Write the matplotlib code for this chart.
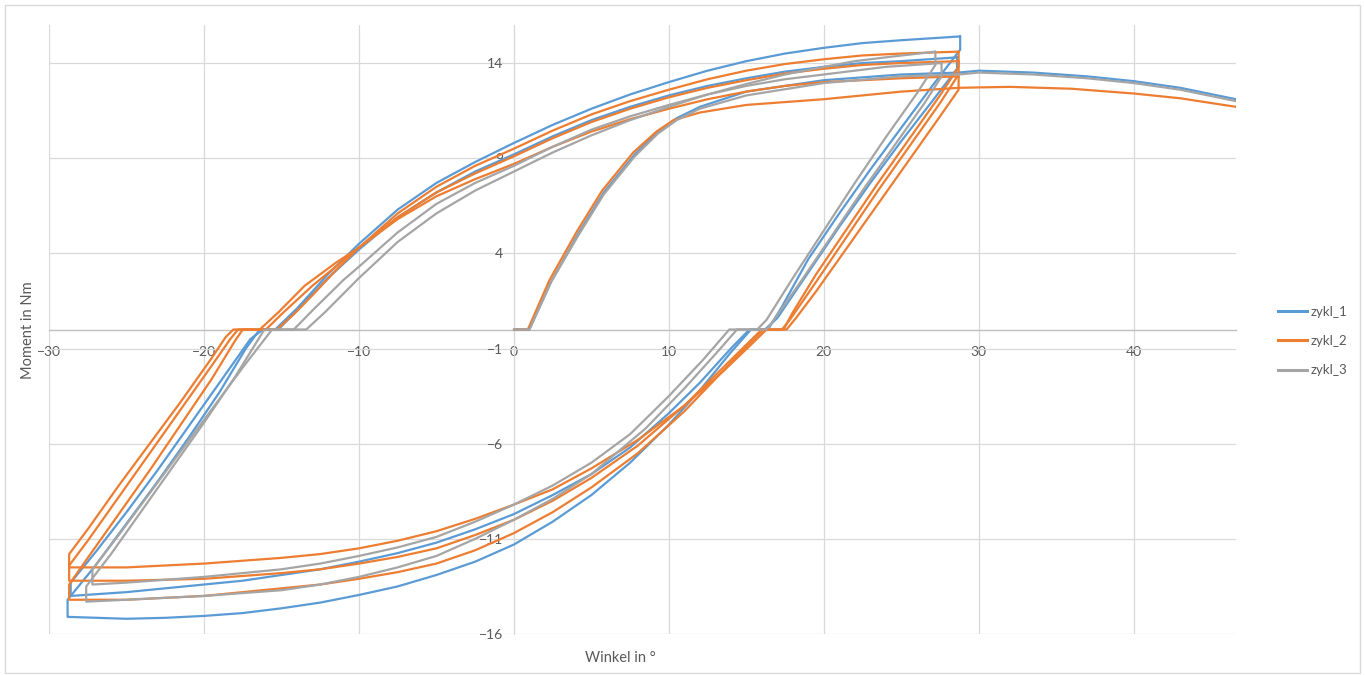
import matplotlib
matplotlib.use('Agg')
import matplotlib.pyplot as plt
from matplotlib.lines import Line2D
from matplotlib.patches import Rectangle

plt.rcParams['font.family'] = ['Lato', 'DejaVu Sans']

# ---- data (Winkel in °, Moment in Nm) ----
x_ticks = [-30, -20, -10, 0, 10, 20, 30, 40]
y_ticks = [-16, -11, -6, -1, 4, 9, 14]
series_names = ['zykl_1', 'zykl_2', 'zykl_3']
series_colors = ['#5B9BD5', '#ED7D31', '#A5A5A5']

# zykl_1
zykl_1_virgin = [(0, 0), (1.0, 0), (2.4, 2.5), (4.2, 5.1), (5.8, 7.2), (7.8, 9.2), (9.3, 10.4),
                 (10.5, 11.1), (12, 11.7), (15, 12.5), (20, 13.1), (25, 13.4), (28.7, 13.5),
                 (30, 13.6), (33.5, 13.5), (37, 13.3), (40, 13.05), (43, 12.7), (46.6, 12.1)]
zykl_1_loop_a = [(28.8, 15.4), (28.8, 14.7), (27, 12.8), (25, 10.6), (23, 8.4), (21, 6.1), (19, 3.7),
                 (17.3, 1.2), (16.4, 0), (15.3, 0), (14, -1.2), (12, -3.2), (10, -5.0), (7.5, -7.0),
                 (5, -8.7), (2.5, -10.1), (0, -11.3), (-2.5, -12.2), (-5, -12.9), (-7.5, -13.5),
                 (-10, -13.95), (-12.5, -14.35), (-15, -14.65), (-17.5, -14.9), (-20, -15.05),
                 (-22.5, -15.15), (-25, -15.2), (-28.8, -15.1),
                 (-28.8, -14.2), (-27, -12.4), (-25, -10.2), (-23, -8.0), (-21, -5.7), (-19, -3.3),
                 (-17.3, -1.0), (-16.4, 0), (-15.4, 0), (-14, 1.1), (-12, 2.9), (-10, 4.5),
                 (-7.5, 6.3), (-5, 7.7), (-2.5, 8.8), (0, 9.8), (2.5, 10.75), (5, 11.6),
                 (7.5, 12.35), (10, 13.0), (12.5, 13.6), (15, 14.1), (17.5, 14.5), (20, 14.8),
                 (22.5, 15.05), (25, 15.2), (28.8, 15.4)]
zykl_1_loop_b = [(28.6, 14.3), (28.6, 13.7), (27, 12.0), (25, 9.9), (23, 7.7), (21, 5.4), (19, 3.0),
                 (17.0, 0.6), (16.2, 0), (15.2, 0), (14, -1.0), (12, -2.8), (10, -4.4), (7.5, -6.2),
                 (5, -7.6), (2.5, -8.7), (0, -9.7), (-2.5, -10.5), (-5, -11.2), (-7.5, -11.75),
                 (-10, -12.2), (-12.5, -12.6), (-15, -12.9), (-17.5, -13.2), (-20, -13.4),
                 (-22.5, -13.6), (-25, -13.8), (-28.6, -14.0),
                 (-28.6, -13.3), (-27, -11.7), (-25, -9.6), (-23, -7.4), (-21, -5.1), (-19, -2.8),
                 (-17, -0.5), (-16.2, 0), (-15.2, 0), (-14, 1.0), (-12, 2.7), (-10, 4.2),
                 (-7.5, 5.9), (-5, 7.2), (-2.5, 8.3), (0, 9.2), (2.5, 10.15), (5, 11.0),
                 (7.5, 11.7), (10, 12.3), (12.5, 12.8), (15, 13.2), (17.5, 13.55), (20, 13.8),
                 (22.5, 14.0), (25, 14.1), (28.6, 14.3)]

# zykl_2
zykl_2_virgin = [(0, 0), (0.9, 0), (2.3, 2.6), (4.1, 5.2), (5.7, 7.3), (7.7, 9.3), (9.2, 10.4),
                 (10.3, 11.0), (12, 11.4), (15, 11.8), (20, 12.1), (25, 12.5), (28.7, 12.7),
                 (32, 12.75), (36, 12.65), (40, 12.4), (43, 12.15), (46.6, 11.7)]
zykl_2_loop_a = [(28.7, 14.6), (28.7, 13.8), (27.5, 12.3), (25.5, 10.0), (23.5, 7.7), (21.5, 5.3),
                 (19.5, 2.9), (18, 0.9), (17.4, 0), (16.1, 0), (15, -0.9), (13, -2.6), (11, -4.3),
                 (8, -6.5), (5, -8.3), (2.5, -9.6), (0, -10.7), (-2.5, -11.6), (-5, -12.3),
                 (-7.5, -12.75), (-10, -13.1), (-12.5, -13.4), (-15, -13.6), (-17.5, -13.8),
                 (-20, -14.0), (-22.5, -14.1), (-25, -14.2), (-28.7, -14.2),
                 (-28.7, -13.4), (-27.5, -12.0), (-25.5, -9.7), (-23.5, -7.4), (-21.5, -5.0),
                 (-19.5, -2.6), (-18, -0.6), (-17.5, 0), (-15.3, 0), (-14.2, 0.8), (-13, 1.8),
                 (-11.5, 3.1), (-10, 4.3), (-7.5, 6.1), (-5, 7.5), (-2.5, 8.6), (0, 9.5),
                 (2.5, 10.45), (5, 11.3), (7.5, 12.0), (10, 12.6), (12.5, 13.15), (15, 13.6),
                 (17.5, 13.95), (20, 14.2), (22.5, 14.4), (25, 14.5), (28.7, 14.6)]
zykl_2_loop_b = [(28.7, 14.1), (28.7, 13.4), (27.5, 11.9), (25.5, 9.6), (23.5, 7.3), (21.5, 4.9),
                 (19.5, 2.5), (17.8, 0.5), (17.3, 0), (16.0, 0), (15, -0.8), (13, -2.4), (11, -4.0),
                 (8, -6.1), (5, -7.8), (2.5, -9.0), (0, -10.0), (-2.5, -10.8), (-5, -11.5),
                 (-7.5, -11.95), (-10, -12.3), (-12.5, -12.6), (-15, -12.8), (-17.5, -12.95),
                 (-20, -13.1), (-22.5, -13.15), (-25, -13.2), (-28.7, -13.2),
                 (-28.7, -12.4), (-27.5, -11.1), (-25.5, -8.8), (-23.5, -6.5), (-21.5, -4.2),
                 (-19.5, -1.9), (-18.3, -0.5), (-17.8, 0), (-16.0, 0), (-15, 0.8), (-13, 2.3),
                 (-11.5, 3.3), (-10, 4.3), (-7.5, 5.9), (-5, 7.2), (-2.5, 8.2), (0, 9.1),
                 (2.5, 10.05), (5, 10.9), (7.5, 11.6), (10, 12.2), (12.5, 12.7), (15, 13.1),
                 (17.5, 13.45), (20, 13.7), (22.5, 13.9), (25, 14.0), (28.7, 14.1)]
zykl_2_loop_c = [(28.7, 13.3), (28.7, 12.6), (27.5, 11.2), (25.5, 8.9), (23.5, 6.6), (21.5, 4.3),
                 (19.5, 2.0), (18.2, 0.6), (17.6, 0), (16.3, 0), (15.3, -0.8), (13.5, -2.2),
                 (11, -4.0), (8, -5.8), (5, -7.3), (2.5, -8.4), (0, -9.2), (-2.5, -9.95),
                 (-5, -10.6), (-7.5, -11.1), (-10, -11.5), (-12.5, -11.8), (-15, -12.0),
                 (-17.5, -12.15), (-20, -12.3), (-22.5, -12.4), (-25, -12.5), (-28.7, -12.5),
                 (-28.7, -11.8), (-27.5, -10.5), (-25.5, -8.2), (-23.5, -6.0), (-21.5, -3.8),
                 (-19.5, -1.5), (-18.6, -0.4), (-18.1, 0), (-16.4, 0), (-15.2, 0.9), (-13.5, 2.3),
                 (-11.5, 3.5), (-10, 4.3), (-7.5, 5.8), (-5, 7.0), (-2.5, 7.9), (0, 8.7),
                 (2.5, 9.6), (5, 10.4), (7.5, 11.05), (10, 11.6), (12.5, 12.1), (15, 12.5),
                 (17.5, 12.8), (20, 13.0), (22.5, 13.1), (25, 13.2), (28.7, 13.3)]

# zykl_3
zykl_3_virgin = [(0, 0), (1.0, 0), (2.4, 2.5), (4.2, 5.0), (5.8, 7.1), (7.8, 9.1), (9.3, 10.3),
                 (10.5, 11.0), (12, 11.6), (15, 12.3), (20, 12.95), (25, 13.3), (28.7, 13.4),
                 (30, 13.5), (33.5, 13.4), (37, 13.2), (40, 12.95), (43, 12.6), (46.6, 12.0)]
zykl_3_loop_a = [(27.2, 14.6), (27.2, 13.9), (26, 12.4), (24, 10.1), (22, 7.7), (20, 5.2), (18, 2.7),
                 (16.3, 0.5), (15.7, 0), (13.9, 0), (12.2, -1.6), (10, -3.5), (7.5, -5.5),
                 (5, -7.0), (2.5, -8.2), (0, -9.2), (-2.5, -10.1), (-5, -10.9), (-7.5, -11.45),
                 (-10, -11.9), (-12.5, -12.3), (-15, -12.6), (-17.5, -12.8), (-20, -13.0),
                 (-22.5, -13.15), (-25, -13.3), (-27.2, -13.4),
                 (-27.2, -12.6), (-25.5, -10.8), (-23.5, -8.6), (-21.5, -6.4), (-19.5, -4.2),
                 (-17.5, -2.0), (-15.6, 0), (-13.4, 0), (-12.2, 0.9), (-10, 2.7), (-7.5, 4.6),
                 (-5, 6.1), (-2.5, 7.3), (0, 8.3), (2.5, 9.3), (5, 10.2), (7.5, 11.0), (10, 11.7),
                 (12.5, 12.35), (15, 12.9), (17.5, 13.4), (20, 13.8), (22, 14.1), (24, 14.3),
                 (27.2, 14.6)]
zykl_3_loop_b = [(27.6, 14.0), (27.6, 13.3), (26.5, 11.9), (24.5, 9.6), (22.5, 7.3), (20.5, 4.9),
                 (18.5, 2.5), (16.6, 0.3), (16.3, 0), (14.4, 0), (13, -1.3), (11, -3.1),
                 (8.5, -5.2), (5, -7.6), (2.5, -8.9), (0, -10.0), (-2.5, -11.0), (-5, -11.9),
                 (-7.5, -12.5), (-10, -13.0), (-12.5, -13.4), (-15, -13.7), (-17.5, -13.85),
                 (-20, -14.0), (-22.5, -14.1), (-25, -14.2), (-27.6, -14.3),
                 (-27.6, -13.5), (-26, -11.8), (-24, -9.5), (-22, -7.2), (-20, -4.9), (-18, -2.5),
                 (-16.1, 0), (-14.2, 0), (-13, 1.0), (-11, 2.6), (-10, 3.3), (-7.5, 5.1),
                 (-5, 6.6), (-2.5, 7.7), (0, 8.6), (2.5, 9.6), (5, 10.5), (7.5, 11.2), (10, 11.8),
                 (12.5, 12.35), (15, 12.8), (17.5, 13.15), (20, 13.4), (22, 13.6), (24, 13.8),
                 (27.6, 14.0)]

series_data = [
    [zykl_1_virgin, zykl_1_loop_a, zykl_1_loop_b],
    [zykl_2_virgin, zykl_2_loop_a, zykl_2_loop_b, zykl_2_loop_c],
    [zykl_3_virgin, zykl_3_loop_a, zykl_3_loop_b],
]

# ---- figure ----
fig = plt.figure(figsize=(13.65, 6.75), dpi=100)
ax = fig.add_axes([49 / 1365, 1 - 634 / 675, (1236 - 49) / 1365, (634 - 25) / 675])

for name, color, parts in zip(series_names, series_colors, series_data):
    for part in parts:
        xs = [p[0] for p in part]
        ys = [p[1] for p in part]
        ax.plot(xs, ys, color=color, linewidth=1.6, solid_joinstyle='round',
                solid_capstyle='round', zorder=3)

ax.set_xlim(-30, 46.6)
ax.set_ylim(-16, 16)
ax.set_xticks(x_ticks)
ax.set_yticks(y_ticks)
ax.grid(True, color='#D9D9D9', linewidth=0.9, zorder=0)
ax.set_axisbelow(True)

for side in ['top', 'right']:
    ax.spines[side].set_visible(False)
ax.spines['left'].set_position(('data', 0))
ax.spines['bottom'].set_position(('data', 0))
ax.spines['left'].set_color('#D9D9D9')
ax.spines['bottom'].set_color('#BFBFBF')
ax.spines['bottom'].set_linewidth(1.0)
ax.tick_params(axis='both', length=0, labelsize=10, colors='#595959')
ax.tick_params(axis='x', pad=12)
ax.tick_params(axis='y', pad=8)

fig.text(28 / 1365, 1 - 330 / 675, 'Moment in Nm', rotation=90, ha='center', va='center',
         fontsize=10.5, color='#595959')
fig.text(620 / 1365, 1 - 658 / 675, 'Winkel in °', ha='center', va='center',
         fontsize=10.5, color='#595959')

handles = [Line2D([0], [0], color=c, linewidth=2.2) for c in series_colors]
fig.legend(handles, series_names, loc='center left', bbox_to_anchor=(1266 / 1365, 1 - 341 / 675),
           frameon=False, fontsize=9.5, labelcolor='#595959', handlelength=2.2,
           handletextpad=0.3, labelspacing=1.3)

fig.patches.append(Rectangle((5 / 1365, 2 / 675), 1355 / 1365, 668 / 675,
                             transform=fig.transFigure, fill=False,
                             edgecolor='#D9D9D9', linewidth=1.0))

plt.savefig('out.png', dpi=100)
plt.close()
